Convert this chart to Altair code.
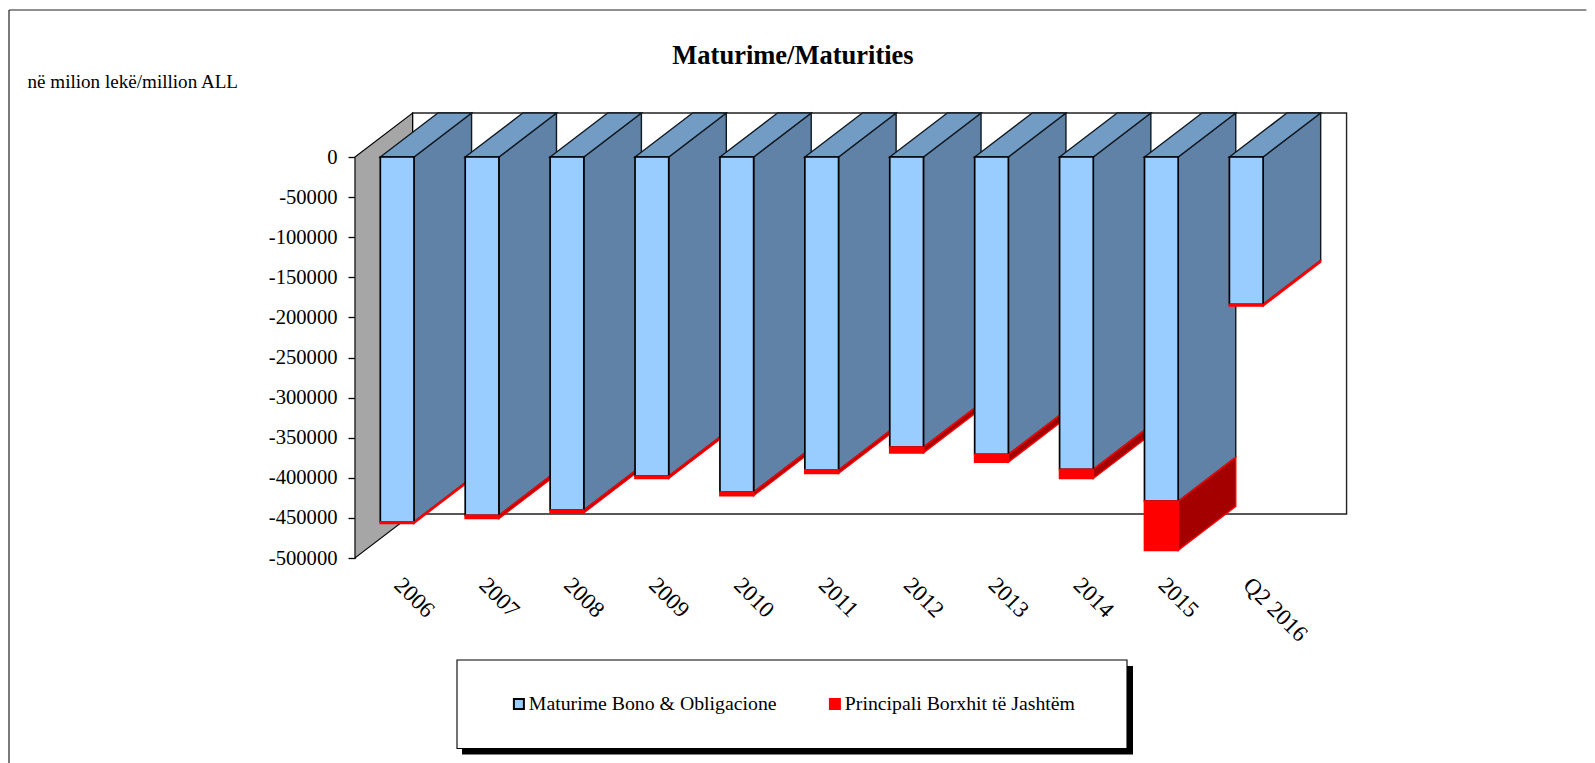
import altair as alt
import pandas as pd

categories = ["2006", "2007", "2008", "2009", "2010", "2011", "2012", "2013", "2014", "2015", "Q2 2016"]
bono = [-454800, -446800, -440300, -397800, -417800, -390200, -361800, -370800, -389400, -429200, -183600]
borxh = [-1950, -3950, -3450, -2950, -4450, -4200, -7000, -9700, -11400, -61200, -2200]
SERIES = ["Maturime Bono & Obligacione", "Principali Borxhit të Jashtëm"]
TITLE = "Maturime/Maturities"
UNIT = "në milion lekë/million ALL"

FONT = "Liberation Serif"
YMIN = -500000
DX = 0.678      # depth of the 3D box in category units
DY = 54800      # depth of the 3D box in value units
GAP = 0.298     # left gap of a bar inside its category
BW = 0.397      # width of a bar in category units
OX, OY = 355, 157  # page position of the plot origin


def px(v):
    return v - OX


def py(v):
    return v - OY


front, side, top = [], [], []
for i, (b, r) in enumerate(zip(bono, borxh)):
    l = i + GAP
    rt = l + BW
    t = b + r
    front.append(dict(s=SERIES[0], x=l, x2=rt, y=0, y2=b))
    front.append(dict(s=SERIES[1], x=l, x2=rt, y=b, y2=t))
    side.append(dict(g=f"b{i}", part="b", x=rt, y=0, y2=b))
    side.append(dict(g=f"b{i}", part="b", x=rt + DX, y=DY, y2=b + DY))
    side.append(dict(g=f"r{i}", part="r", x=rt, y=b, y2=t))
    side.append(dict(g=f"r{i}", part="r", x=rt + DX, y=b + DY, y2=t + DY))
    top.append(dict(g=f"t{i}", y=0, x=l, x2=rt))
    top.append(dict(g=f"t{i}", y=DY, x=l + DX, x2=rt + DX))
front = pd.DataFrame(front)
side = pd.DataFrame(side)
top = pd.DataFrame(top)

label_list = "[" + ",".join(f"'{c}'" for c in categories) + "]"
X = alt.X(
    "x:Q",
    scale=alt.Scale(domain=[0, 11], nice=False, zero=False),
    axis=alt.Axis(
        values=[i + 0.5 for i in range(11)],
        labelExpr=f"{label_list}[datum.value-0.5]",
        labelAngle=45, labelAlign="left", labelBaseline="middle",
        labelPadding=23, labelOffset=0, labelFont=FONT, labelFontSize=23,
        labelColor="black", ticks=False, domain=False, grid=False, title=None,
        labelOverlap=False, labelBound=False, labelFlush=False,
    ),
)
Y = alt.Y(
    "y:Q",
    scale=alt.Scale(domain=[YMIN, 0], nice=False, zero=False),
    axis=alt.Axis(
        values=list(range(YMIN, 1, 50000)),
        labelExpr="'' + datum.value",
        tickSize=7, tickColor="black", tickWidth=1.3,
        domainColor="black", domainWidth=1.3,
        labelPadding=11, labelFont=FONT, labelFontSize=20.6, labelColor="black",
        grid=False, title=None, labelOverlap=False, labelBound=False,
    ),
)

wall_back = alt.Chart(pd.DataFrame({"x": [DX], "x2": [11 + DX], "y": [DY], "y2": [YMIN + DY]})).mark_rect(
    fill="white", stroke="#222222", strokeWidth=1.4
).encode(x=X, x2="x2:Q", y=Y, y2="y2:Q")

wall_left = alt.Chart(pd.DataFrame({"x": [0, DX], "y": [0, DY], "y2": [YMIN, YMIN + DY]})).mark_area(
    fill="#A6A6A6", stroke="black", strokeWidth=1.1, interpolate="linear"
).encode(x=X, y=Y, y2="y2:Q")

side_blue = alt.Chart(side[side.part == "b"]).mark_area(
    fill="#5F82A6", stroke="#101820", strokeWidth=1.4, interpolate="linear"
).encode(x=X, y=Y, y2="y2:Q", detail="g:N")

side_red = alt.Chart(side[side.part == "r"]).mark_area(
    fill="#A50000", stroke="#FF0000", strokeWidth=1.4, interpolate="linear"
).encode(x=X, y=Y, y2="y2:Q", detail="g:N")

top_face = alt.Chart(top).mark_area(
    orient="horizontal", fill="#739CC4", stroke="#101820", strokeWidth=1.4, interpolate="linear"
).encode(x=X, x2="x2:Q", y=Y, detail="g:N")

front_face = alt.Chart(front).mark_rect(strokeWidth=1.7).encode(
    x=X, x2="x2:Q", y=Y, y2="y2:Q",
    fill=alt.Fill(
        "s:N",
        scale=alt.Scale(domain=SERIES, range=["#99CCFF", "#FF0000"]),
        legend=alt.Legend(
            title=None, orient="none", legendX=154, legendY=537, columns=2,
            columnPadding=48, symbolType="square", symbolSize=100,
            symbolStrokeWidth=2, labelFont=FONT, labelFontSize=19.8,
            labelColor="black", labelLimit=400, labelOffset=0, padding=0,
        ),
    ),
    stroke=alt.Stroke(
        "s:N",
        scale=alt.Scale(domain=SERIES, range=["#000000", "#FF0000"]),
        legend=None,
    ),
    order=alt.Order("s:N"),
)

one = pd.DataFrame({"t": [TITLE], "u": [UNIT]})


def box(x, x2, y, y2, **kw):
    return alt.Chart(one).mark_rect(**kw).encode(
        x=alt.value(px(x)), x2=alt.value(px(x2)), y=alt.value(py(y)), y2=alt.value(py(y2))
    )


# the outer frame runs off the right and bottom of the picture: only its top and left edges show
frame_top = alt.Chart(one).mark_rule(stroke="#222222", strokeWidth=1.2).encode(
    x=alt.value(px(9)), x2=alt.value(px(1586.4)), y=alt.value(py(10))
)
frame_left = alt.Chart(one).mark_rule(stroke="#222222", strokeWidth=1.2).encode(
    x=alt.value(px(9)), y=alt.value(py(10)), y2=alt.value(py(768))
)
legend_shadow = box(462, 1133, 666, 754.5, fill="black")
legend_box = box(457, 1127, 660, 748.5, fill="white", stroke="black", strokeWidth=1.1)

title = alt.Chart(one).mark_text(
    font=FONT, fontSize=26.5, fontWeight="bold", color="black", align="center", baseline="middle"
).encode(x=alt.value(px(793)), y=alt.value(py(56)), text="t:N")
unit = alt.Chart(one).mark_text(
    font=FONT, fontSize=19.1, color="black", align="left", baseline="middle"
).encode(x=alt.value(px(27.5)), y=alt.value(py(82)), text="u:N")

chart = alt.layer(
    wall_back, wall_left, side_blue, side_red, top_face, front_face,
    legend_shadow, legend_box, frame_top, frame_left, title, unit,
).properties(
    width=934, height=401,
    padding={"left": 0, "top": 1, "right": 0, "bottom": 0},
).configure_view(stroke=None).resolve_scale(fill="independent", stroke="independent")

chart.save("out.html", embed_options={"renderer": "svg", "actions": False})
